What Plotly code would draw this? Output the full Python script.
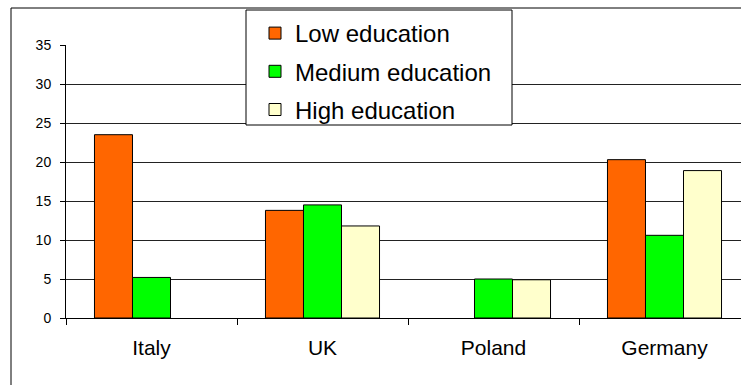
import plotly.graph_objects as go

countries = ["Italy", "UK", "Poland", "Germany"]
low_edu = [23.5, 13.8, None, 20.3]
medium_edu = [5.2, 14.5, 5.0, 10.6]
high_edu = [None, 11.8, 4.9, 18.9]
y_ticks = [0, 5, 10, 15, 20, 25, 30, 35]

series = [
    ("Low education", low_edu, "#FF6600"),
    ("Medium education", medium_edu, "#00FF00"),
    ("High education", high_edu, "#FFFFCC"),
]

W, H = 741, 385
L, R, T, B = 66, 0, 45, 67
pw, ph = W - L - R, H - T - B

def px_x(x):
    return (x - L) / pw

def px_y(y):
    return (H - B - y) / ph

fig = go.Figure()
for i, (name, vals, col) in enumerate(series):
    fig.add_trace(go.Bar(
        x=countries, y=vals, name=name,
        marker=dict(color=col, line=dict(color="#000000", width=1)),
        legendgroup=str(i),
    ))

font = "Liberation Sans, Arial, sans-serif"
fig.update_layout(
    width=W, height=H,
    margin=dict(l=L, r=R, t=T, b=B),
    paper_bgcolor="white", plot_bgcolor="white",
    barmode="group", bargap=0.333, bargroupgap=0,
    font=dict(family=font, color="#000000"),
    showlegend=True,
    legend=dict(
        x=px_x(255), y=px_y(11), xanchor="left", yanchor="top",
        bgcolor="rgba(0,0,0,0)", borderwidth=0,
        font=dict(size=24, family=font),
        traceorder="grouped", tracegroupgap=4,
    ),
    xaxis=dict(
        range=[-0.5, 3.5 - 9 / 171], showgrid=False,
        showline=True, linecolor="#000000", linewidth=1,
        ticks="outside", ticklen=6, tickcolor="#000000", tickson="boundaries",
        tickfont=dict(size=21), ticklabelstandoff=11,
    ),
    yaxis=dict(
        range=[0, 35], tickvals=y_ticks, showgrid=True,
        gridcolor="#222222", gridwidth=1,
        showline=True, linecolor="#000000", linewidth=1,
        ticks="outside", ticklen=5, tickcolor="#000000",
        tickfont=dict(size=14), ticklabelstandoff=6, zeroline=False,
    ),
    shapes=[
        # outer chart frame
        dict(type="rect", xref="paper", yref="paper",
             x0=px_x(11), x1=px_x(760), y0=px_y(400), y1=px_y(8),
             line=dict(color="#000000", width=1), fillcolor="rgba(0,0,0,0)",
             layer="above"),
        # legend box
        dict(type="rect", xref="paper", yref="paper",
             x0=px_x(246), x1=px_x(512), y0=px_y(125), y1=px_y(10),
             line=dict(color="#000000", width=1), fillcolor="white",
             layer="above"),
    ],
)

fig.write_html("out.html")
